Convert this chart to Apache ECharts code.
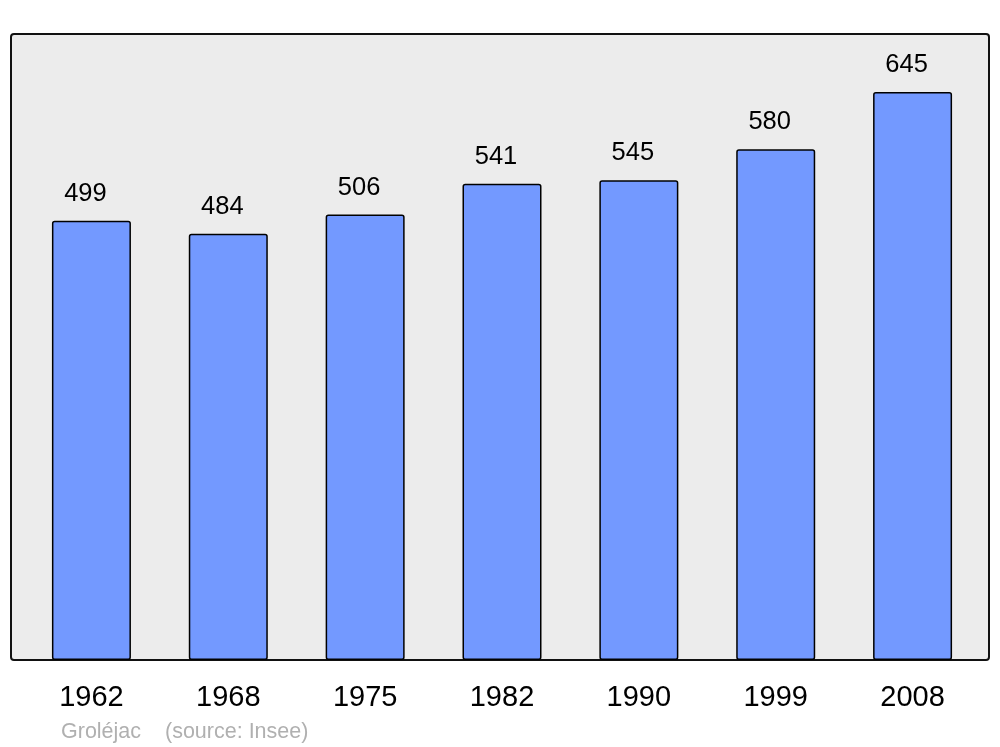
<!DOCTYPE html>
<html>
<head>
<meta charset="utf-8">
<script src="https://cdn.jsdelivr.net/npm/echarts@6/dist/echarts.min.js"></script>
<style>html,body{margin:0;padding:0;background:#fff;}#c{width:1000px;height:747px;}</style>
</head>
<body>
<div id="c"></div>
<script>
const years = ['1962','1968','1975','1982','1990','1999','2008'];
const population = [499, 484, 506, 541, 545, 580, 645];
const footerName = 'Groléjac';
const footerSource = '(source: Insee)';

const chart = echarts.init(document.getElementById('c'), null, {renderer:'canvas'});
const FONT = '"Liberation Sans", Arial, sans-serif';
chart.setOption({
  animation: false,
  backgroundColor: '#ffffff',
  grid: {left: 23, right: 19, top: 34, bottom: 87, containLabel: false},
  xAxis: {
    type: 'category',
    data: years,
    axisLine: {show: false},
    axisTick: {show: false},
    axisLabel: {fontFamily: FONT, fontSize: 29, color: '#000', margin: 23}
  },
  yAxis: {
    type: 'value',
    min: 0,
    max: 711,
    show: false,
    splitLine: {show: false}
  },
  graphic: [
    {type: 'rect', z: -10, shape: {x: 11, y: 34, width: 978, height: 626, r: 3},
     style: {fill: '#ececec', stroke: '#111', lineWidth: 2}},
    {type: 'text', left: 61, top: 721, style: {text: footerName, fill: '#b0b0b0', font: '21.5px ' + FONT}},
    {type: 'text', left: 165, top: 721, style: {text: footerSource, fill: '#b0b0b0', font: '21.5px ' + FONT}}
  ],
  series: [{
    type: 'bar',
    data: population,
    barWidth: 79,
    itemStyle: {color: '#7399ff', borderColor: '#000', borderWidth: 1.5, borderRadius: 2},
    label: {show: true, position: 'top', distance: 14, offset: [-6, 0], fontFamily: FONT, fontSize: 25.5, color: '#000'}
  }]
});
</script>
</body>
</html>
